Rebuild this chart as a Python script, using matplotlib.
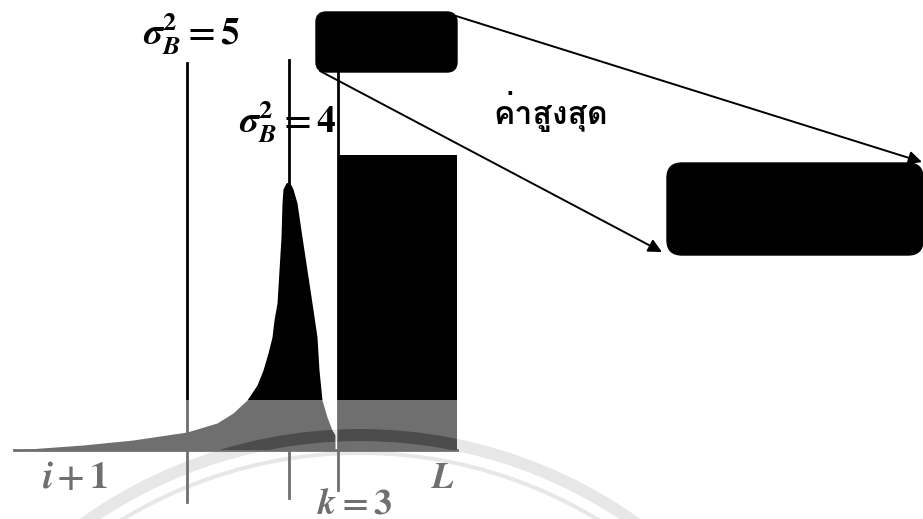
import matplotlib
matplotlib.use("Agg")
import matplotlib.pyplot as plt
from matplotlib import font_manager
from matplotlib.ft2font import FT2Font
from matplotlib.patches import FancyBboxPatch, Circle

# histogram envelope (gray level, count)
curve_x = [14, 83, 133, 187, 217, 233, 247, 257, 263, 268, 272, 274, 277, 279,
           281, 282, 283, 286, 288, 290, 293, 297, 302, 307, 312, 317, 319,
           322, 327, 332, 335]
curve_y = [0, 5, 10, 18, 27, 37, 50, 65, 80, 97, 113, 130, 147, 180,
           213, 247, 261, 267, 268, 267, 261, 247, 213, 180, 147, 113, 80,
           50, 33, 20, 15]

# block of the upper class
block_left = 338
block_right = 457
block_height = 295

# thresholds tried
thresholds = [187, 289, 338]
thr_top = [387, 390, 380]
thr_bottom = [-52, -48, -40]

baseline = [14, 457]

# seal ring
seal_center = (360, -461)
seal_radius = 476


def find_thai_font():
    for f in font_manager.fontManager.ttflist:
        try:
            if 0x0E04 in FT2Font(f.fname).get_charmap():
                return f.name
        except Exception:
            pass
    return "DejaVu Sans"


thai = find_thai_font()

plt.rcParams["mathtext.fontset"] = "stix"

fig = plt.figure(figsize=(9.23, 5.19), dpi=100)
ax = fig.add_axes([0, 0, 1, 1])
ax.set_xlim(0, 923)
ax.set_ylim(-69, 450)
ax.axis("off")

# seal rings in the background
for r, w in [(seal_radius, 12), (seal_radius - 18, 4)]:
    ax.add_patch(Circle(seal_center, r, fill=False, ec="#d6d6d6", lw=w * 0.72,
                        zorder=1))

hist = ax.fill_between(curve_x, 0, curve_y, color="black", lw=0, zorder=2)
bars = ax.bar(block_left, block_height, width=block_right - block_left,
              align="edge", color="black", zorder=2)
ax.plot(baseline, [0, 0], color="black", lw=2, zorder=3)
for x, t, b in zip(thresholds, thr_top, thr_bottom):
    ax.plot([x, x], [b, t], color="black", lw=2, zorder=3)

# boxes
for (x0, y0, w, h, r) in [(316, 378, 141, 60, 10), (667, 195, 256, 92, 15)]:
    ax.add_patch(FancyBboxPatch((x0 + r, y0 + r), w - 2 * r, h - 2 * r,
                                boxstyle="round,pad=%d" % r, fc="black",
                                ec="black", zorder=4))

arrow = dict(arrowstyle="-|>", color="black", lw=1.4, mutation_scale=20,
             shrinkA=0, shrinkB=0)
ax.annotate("", xy=(662, 198), xytext=(320, 379), arrowprops=arrow, zorder=5)
ax.annotate("", xy=(922, 288), xytext=(456, 434), arrowprops=arrow, zorder=5)


def sigma_label(value):
    return (r"$\mathbfit{\sigma}_{\mathbfit{B}}^{\mathbf{2}}\mathbf{=}\mathbf{%s}$"
            % value)


ax.text(192, 405, sigma_label(5), fontsize=27, ha="center", va="baseline")
ax.text(288, 317, sigma_label(4), fontsize=27, ha="center", va="baseline")
ax.text(551, 338, "ค่าสูงสุด", fontsize=23, fontweight="bold", family=thai,
        ha="center", va="center")
ax.text(75, -38, r"$\mathbfit{i}\,\mathbf{+}\,\mathbf{1}$", fontsize=27,
        ha="center", va="baseline")
ax.text(443, -38, r"$\mathbfit{L}$", fontsize=26, ha="center", va="baseline")
ax.text(355, -63, r"$\mathbfit{k}\mathbf{=3}$", fontsize=26, ha="center",
        va="baseline")

# washed-out lower band
ax.axhspan(-69, 50, color="white", alpha=0.44, lw=0, zorder=10)

# the outer ring shows dark where it crosses the filled areas
for clip in [hist.get_paths()[0], bars.patches[0]]:
    ring = Circle(seal_center, seal_radius, fill=False, ec="#4c4c4c",
                  lw=12 * 0.72, zorder=11)
    ax.add_patch(ring)
    if hasattr(clip, "get_path"):
        ring.set_clip_path(clip)
    else:
        ring.set_clip_path(clip, ax.transData)

fig.savefig("out.png", dpi=100)
